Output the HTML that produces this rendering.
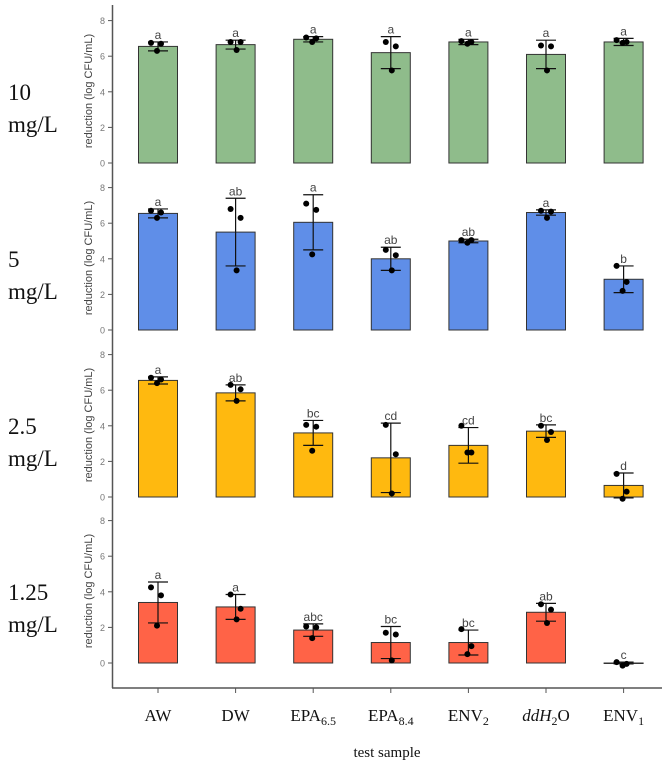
<!DOCTYPE html>
<html><head><meta charset="utf-8">
<style>
body{margin:0;background:#fff;width:662px;height:769px;overflow:hidden}
svg{display:block}
</style></head>
<body>
<svg id="chart" width="662" height="769" xmlns="http://www.w3.org/2000/svg">
</svg>
<script>
const categories = ["AW","DW","EPA6.5","EPA8.4","ENV2","ddH2O","ENV1"];
const panelLabels = ["10","5","2.5","1.25"];
const yTicks = [0,2,4,6,8];
const means10 = [6.55,6.65,6.95,6.2,6.8,6.1,6.8];
const err10 = [0.25,0.25,0.15,0.9,0.15,0.8,0.2];
const pts10 = [[6.75,6.7,6.3],[6.8,6.8,6.35],[7.05,7.0,6.8],[6.8,6.55,5.2],[6.85,6.8,6.7],[6.6,6.55,5.2],[6.9,6.8,6.75]];
const let10 = ["a","a","a","a","a","a","a"];
const means5 = [6.55,5.5,6.05,4.0,5.0,6.6,2.85];
const err5 = [0.25,1.9,1.55,0.65,0.1,0.15,0.75];
const pts5 = [[6.7,6.6,6.3],[6.8,6.3,3.35],[7.1,6.75,4.25],[4.5,4.2,3.35],[5.05,5.05,4.9],[6.7,6.65,6.3],[3.6,2.7,2.2]];
const let5 = ["a","ab","a","ab","ab","a","b"];
const means25 = [6.55,5.85,3.6,2.2,2.9,3.7,0.65];
const err25 = [0.2,0.45,0.7,1.95,1.0,0.35,0.7];
const pts25 = [[6.7,6.6,6.4],[6.3,6.05,5.4],[4.05,3.95,2.6],[4.05,2.4,0.2],[4.0,2.5,2.5],[4.0,3.65,3.2],[1.3,0.3,-0.1]];
const let25 = ["a","ab","bc","cd","cd","bc","d"];
const means125 = [3.4,3.15,1.85,1.15,1.15,2.85,0.0];
const err125 = [1.15,0.7,0.35,0.9,0.7,0.5,0.05];
const pts125 = [[4.25,3.8,2.1],[3.85,3.05,2.45],[2.05,2.0,1.4],[1.7,1.6,0.15],[1.9,0.95,0.5],[3.3,3.0,2.25],[0.05,-0.05,-0.15]];
const let125 = ["a","a","abc","bc","bc","ab","c"];

const panels = [
 {m:means10,e:err10,p:pts10,l:let10,zero:163,color:"#8fbc8b",lab:panelLabels[0]},
 {m:means5,e:err5,p:pts5,l:let5,zero:330,color:"#5f8ee8",lab:panelLabels[1]},
 {m:means25,e:err25,p:pts25,l:let25,zero:497,color:"#ffb90f",lab:panelLabels[2]},
 {m:means125,e:err125,p:pts125,l:let125,zero:663,color:"#ff6347",lab:panelLabels[3]}
];
const scale = 17.8;
const x0 = 158, step = 77.6, bw = 39;
const svg = document.getElementById('chart');
const NS = "http://www.w3.org/2000/svg";
function mk(tag, attrs, parent){const e=document.createElementNS(NS,tag);for(const k in attrs)e.setAttribute(k,attrs[k]);(parent||svg).appendChild(e);return e;}
function xPos(i){return x0+i*step;}
const jit=[-7,3,-1];

// y axis line
let ax = mk('line',{x1:112.5,y1:5,x2:112.5,y2:688,stroke:"#555","stroke-width":1.5});


let bx = mk('line',{x1:112,y1:688,x2:662,y2:688,stroke:"#555","stroke-width":1.5});



panels.forEach((pn,pi)=>{
  const g = mk('g',{});
  
  
  const y = v=>pn.zero - v*scale;
  yTicks.forEach(t=>{
    const tk = mk('line',{x1:108,x2:112,y1:y(t),y2:y(t),stroke:"#555"},g);
    
    
    const tl = mk('text',{x:105,y:y(t)+3.5,"text-anchor":"end","font-size":9,fill:"#777","font-family":"Liberation Sans, sans-serif"},g);
    tl.textContent=t;
    
    
  });
  const yt = mk('text',{transform:`translate(92,${pn.zero-72}) rotate(-90)`,"text-anchor":"middle","font-size":11,fill:"#444","font-family":"Liberation Sans, sans-serif"},g);
  yt.textContent="reduction (log CFU/mL)";
  
  
  const pl = mk('text',{x:8,y:pn.zero-63,"font-size":23,fill:"#111","font-family":"Liberation Serif, serif"},g);
  pl.textContent=pn.lab;
  
  
  const pl2 = mk('text',{x:8,y:pn.zero-31,"font-size":23,fill:"#111","font-family":"Liberation Serif, serif"},g);
  pl2.textContent="mg/L";
  
  
  pn.m.forEach((v,i)=>{
    const cx=xPos(i);
    const top=Math.min(y(v),pn.zero), h=Math.max(Math.abs(v*scale),0.5);
    const r = mk('rect',{x:cx-bw/2,y:top,width:bw,height:h,fill:pn.color,stroke:"#333","stroke-width":1},g);
    
    
    const hi=y(v+pn.e[i]), lo=y(v-pn.e[i]);
    const eb = mk('path',{d:`M${cx},${hi}V${lo}M${cx-10},${hi}H${cx+10}M${cx-10},${lo}H${cx+10}`,stroke:"#111","stroke-width":1.2,fill:"none"},g);
    
    
    pn.p[i].forEach((pv,k)=>{
      const c = mk('circle',{cx:cx+jit[k]+(i%2?2:0),cy:y(pv),r:3,fill:"#000"},g);
      
      
    });
    const lt = mk('text',{x:cx,y:Math.min(hi,y(v))-3,"text-anchor":"middle","font-size":12,fill:"#444","font-family":"Liberation Sans, sans-serif"},g);
    lt.textContent=pn.l[i];
    
    
  });
});

const xl = [["AW",""],["DW",""],["EPA","6.5"],["EPA","8.4"],["ENV","2"],["ddH","2"],["ENV","1"]];
xl.forEach((l,i)=>{
  const cx=xPos(i);
  const t = mk('text',{x:cx,y:721,"text-anchor":"middle","font-size":17,fill:"#111","font-family":"Liberation Serif, serif"});
  
  
  if(i===5){
    const a=mk('tspan',{"font-style":"italic"},t);a.textContent="ddH";
    const b=mk('tspan',{"font-size":12,dy:4},t);b.textContent="2";
    const c=mk('tspan',{dy:-4},t);c.textContent="O";
  } else {
    const a=mk('tspan',{},t);a.textContent=l[0];
    if(l[1]){const b=mk('tspan',{"font-size":12,dy:4},t);b.textContent=l[1];}
  }
  const tk = mk('line',{x1:cx,x2:cx,y1:688,y2:693,stroke:"#555"});
  
  
});
const xt = mk('text',{x:387,y:757,"text-anchor":"middle","font-size":15,fill:"#111","font-family":"Liberation Serif, serif"});
xt.textContent="test sample";


</script>
</body></html>
